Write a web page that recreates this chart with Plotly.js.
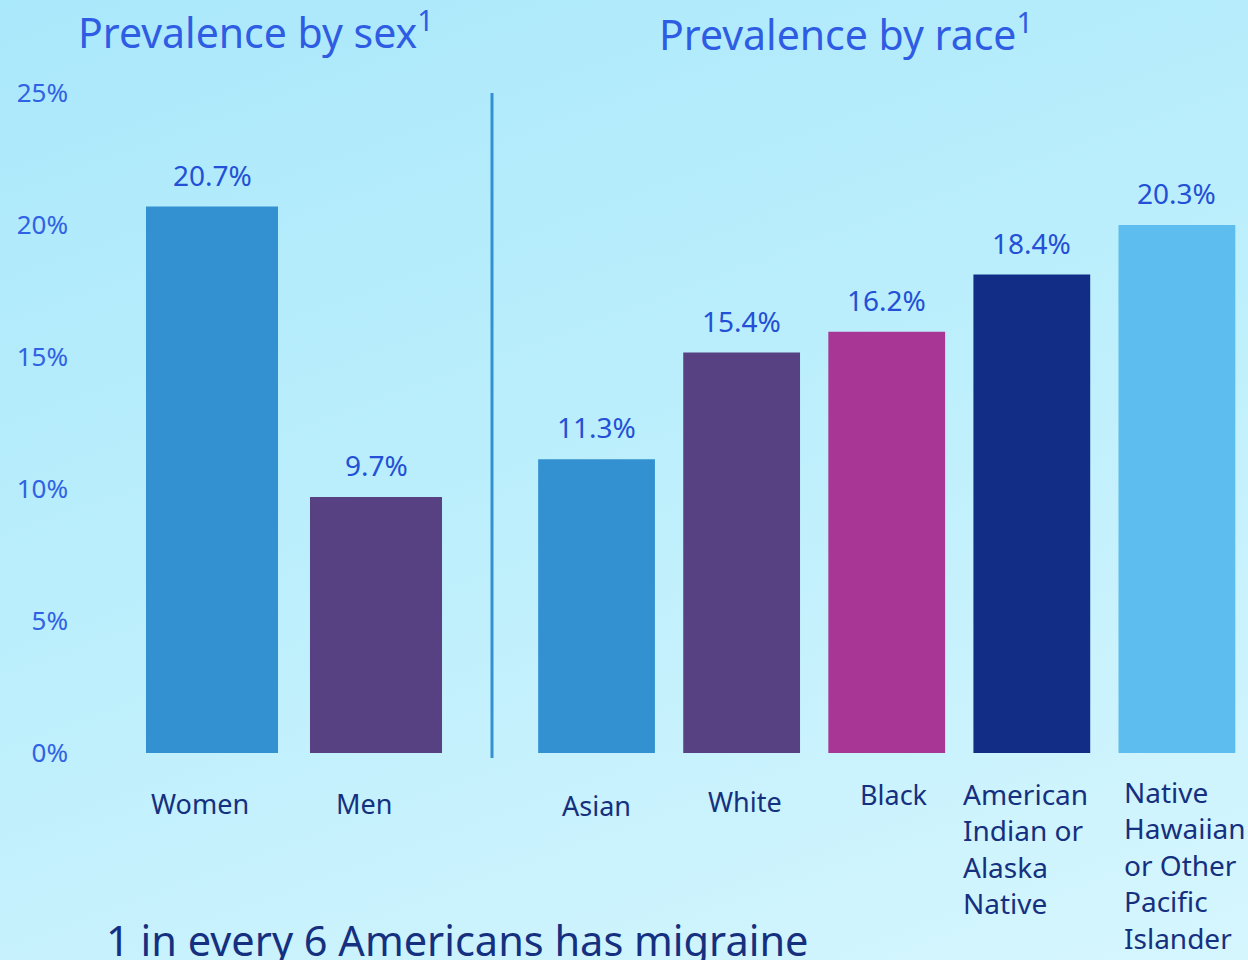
<!DOCTYPE html>
<html>
<head>
<meta charset="utf-8">
<script src="https://cdn.plot.ly/plotly-3.0.1.min.js"></script>
<style>
  html, body { margin: 0; padding: 0; }
  body { width: 1248px; height: 960px; overflow: hidden;
         background: linear-gradient(160deg, #aae8fb 0%, #bdeffc 50%, #d6f6fe 100%); }
  #chart { width: 1248px; height: 960px; }
</style>
</head>
<body>
<div id="chart"></div>
<script>
// ---- data ----
const sexCategories = ['Women', 'Men'];
const sexValues = [20.7, 9.7];
const raceCategories = ['Asian', 'White', 'Black', 'American Indian or Alaska Native', 'Native Hawaiian or Other Pacific Islander'];
const raceValues = [11.3, 15.4, 16.2, 18.4, 20.3];
const raceLabels = ['Asian', 'White', 'Black', 'American<br>Indian or<br>Alaska<br>Native', 'Native<br>Hawaiian<br>or Other<br>Pacific<br>Islander'];
const yTickValues = [0, 5, 10, 15, 20, 25];
const yTickLabels = ['0%', '5%', '10%', '15%', '20%', '25%'];
const sexTitle = 'Prevalence by sex<sup>1</sup>';
const raceTitle = 'Prevalence by race<sup>1</sup>';
const footerText = '1 in every 6 Americans has migraine';

// ---- styles ----
const FONT = '"Noto Sans", "Open Sans", sans-serif';
const sexColors = ['#3491d1', '#574183'];
const raceColors = ['#3491d1', '#574183', '#a83694', '#112d85', '#5cbdee'];
const titleColor = '#2e5de3';
const valueColor = '#2350d6';
const tickColor = '#3062e4';
const catColor = '#15307f';
// label placement: [xshift, yshift, anchor]
const sexLabelStyle = [[-12, -50, 'center'], [-12, -50, 'center']];
const raceLabelStyle = [[0, -52, 'center'], [3, -48, 'center'], [7, -41, 'center'], [-71, -20, 'left'], [-55, -18, 'left']];

const traces = [
  { type: 'bar', x: sexCategories, y: sexValues, xaxis: 'x', yaxis: 'y',
    marker: { color: sexColors }, hoverinfo: 'skip' },
  { type: 'bar', x: raceCategories, y: raceValues, xaxis: 'x2', yaxis: 'y2',
    marker: { color: raceColors }, hoverinfo: 'skip' }
];

const annotations = [];
sexCategories.forEach((c, i) => {
  annotations.push({ xref: 'x', yref: 'y', x: c, y: sexValues[i], text: sexValues[i].toFixed(1) + '%',
    showarrow: false, yanchor: 'bottom', yshift: 11, font: { family: FONT, size: 28, color: valueColor } });
  const s = sexLabelStyle[i];
  annotations.push({ xref: 'x', yref: 'y', x: c, y: 0, text: c, showarrow: false,
    xanchor: s[2], yanchor: 'middle', xshift: s[0], yshift: s[1], align: 'left',
    font: { family: FONT, size: 27, color: catColor } });
});
raceCategories.forEach((c, i) => {
  annotations.push({ xref: 'x2', yref: 'y2', x: c, y: raceValues[i], text: raceValues[i].toFixed(1) + '%',
    showarrow: false, yanchor: 'bottom', yshift: 11, font: { family: FONT, size: 28, color: valueColor } });
  const s = raceLabelStyle[i];
  const multi = raceLabels[i].indexOf('<br>') >= 0;
  annotations.push({ xref: 'x2', yref: 'y2', x: c, y: 0, text: raceLabels[i], showarrow: false,
    xanchor: s[2], yanchor: multi ? 'top' : 'middle', xshift: s[0], yshift: s[1], align: 'left',
    font: { family: FONT, size: multi ? 28 : 27, color: catColor } });
});

annotations.push({ xref: 'paper', yref: 'paper', x: 256 / 1248, y: (753 - 30) / 660, text: sexTitle,
  showarrow: false, xanchor: 'center', yanchor: 'middle', font: { family: FONT, size: 41, color: titleColor } });
annotations.push({ xref: 'paper', yref: 'paper', x: 846 / 1248, y: (753 - 32) / 660, text: raceTitle,
  showarrow: false, xanchor: 'center', yanchor: 'middle', font: { family: FONT, size: 41, color: titleColor } });
annotations.push({ xref: 'paper', yref: 'paper', x: 104 / 1248, y: (753 - 940) / 660, text: footerText,
  showarrow: false, xanchor: 'left', yanchor: 'middle', font: { family: FONT, size: 41.5, color: catColor } });

const layout = {
  width: 1248, height: 960,
  margin: { l: 0, r: 0, t: 93, b: 207 },
  paper_bgcolor: 'rgba(0,0,0,0)', plot_bgcolor: 'rgba(0,0,0,0)',
  showlegend: false,
  bargap: 0.195,
  font: { family: FONT },
  xaxis: { domain: [130 / 1248, 458 / 1248], visible: false, type: 'category', range: [-0.5, 1.5], fixedrange: true },
  xaxis2: { domain: [524 / 1248, 1], visible: false, type: 'category', range: [-0.5, 4.49], fixedrange: true },
  yaxis: { anchor: 'free', position: 68 / 1248, side: 'left', range: [0, 25], tickvals: yTickValues, ticktext: yTickLabels,
    showgrid: false, zeroline: false, showline: false, ticks: '', automargin: false,
    tickfont: { family: FONT, size: 26, color: tickColor }, fixedrange: true },
  yaxis2: { anchor: 'x2', range: [0, 25.38], visible: false, fixedrange: true },
  shapes: [{ type: 'line', xref: 'paper', yref: 'paper', x0: 492 / 1248, x1: 492 / 1248, y0: -5 / 660, y1: 1,
    line: { color: '#3491d1', width: 3 } }],
  annotations: annotations
};

Plotly.newPlot('chart', traces, layout, { staticPlot: true, displayModeBar: false });
</script>
</body>
</html>
